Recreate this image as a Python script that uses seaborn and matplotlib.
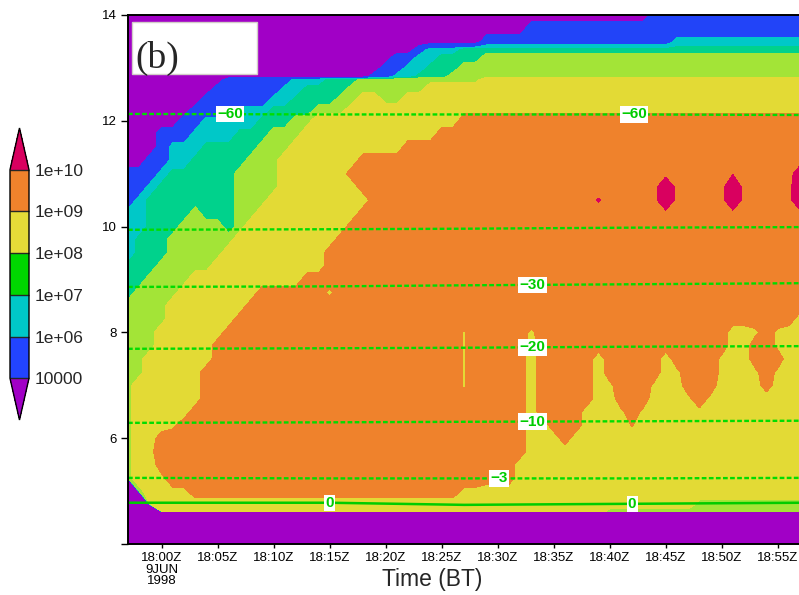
import numpy as np
import pandas as pd
import seaborn as sns
import matplotlib
matplotlib.use("Agg")
import matplotlib.pyplot as plt
from matplotlib import font_manager
from matplotlib.colors import ListedColormap, BoundaryNorm
from matplotlib.cm import ScalarMappable
from matplotlib.patches import Rectangle

# grid columns: minutes after 18:00Z, one per minute
minutes = list(range(-3, 58))
# grid rows: height (km), top to bottom
heights = [14.0, 13.75, 13.5, 13.35, 13.2, 13.0, 12.84, 12.78, 12.6, 12.4, 12.2, 12.0,
           11.75, 11.5, 11.25, 11.0, 10.75, 10.5, 10.25, 10.0, 9.75, 9.5, 9.25, 9.0,
           8.75, 8.5, 8.25, 8.0, 7.75, 7.5, 7.25, 7.0, 6.75, 6.5, 6.25, 6.0, 5.75,
           5.5, 5.25, 5.0, 4.75, 4.62, 4.58, 4.25, 4.0]

# log10 concentration read for each band letter (P = nothing below cloud base)
band_log10 = {"P": -30.0, "p": 3.0, "b": 5.0, "c": 6.5, "t": 7.25, "g": 7.75,
              "y": 8.5, "q": 8.8, "s": 8.93, "r": 9.07, "o": 9.5, "O": 9.9,
              "n": 10.1, "m": 10.8, "M": 11.5}

# run-length rows (count + band letter), same order as heights
band_rows = [
    "47p 14b",
    "36p 25b",
    "32p 17b 12c",
    "26p 1b 3c 31t",
    "24p 2b 2c 4t 29g",
    "23p 2b 2c 3t 31g",
    "22p 2b 2c 3t 32g",
    "9p 6b 3c 3t 11g 29y",
    "8p 6b 2c 4t 7g 34y",
    "7p 6b 2c 4t 2g 2y 2g 36y",
    "6p 3b 4c 4t 3g 10y 31q",
    "5p 2b 5c 3t 2g 13y 31o",
    "3p 3b 4c 3t 3g 12y 33o",
    "3p 1b 3c 5t 3g 10y 36o",
    "2p 2b 2c 5t 3g 7y 40o",
    "3b 1c 6t 4g 6y 34o 1O 5o 1m",
    "2b 1c 7t 4g 7y 27o 1M 5o 1M 5o 1M",
    "1b 1c 8t 3g 9y 20o 1n 5o 1M 5o 1M 5o 1M",
    "2c 4t 1g 3t 2g 9y 40o",
    "2c 3t 4g 1t 1g 9y 41o",
    "1c 3t 6g 9y 42o",
    "1c 3t 5g 9y 43o",
    "3t 5g 10y 43o",
    "2t 4g 10y 45o",
    "1t 4g 7y 6o 1q 42o",
    "4g 7y 50o",
    "4g 6y 50o 1y",
    "3g 6y 21o 1s 5o 1q 17o 2y 1q 1o 1q 2y",
    "3g 5y 22o 1s 5o 1y 17o 2y 2o 1q 2y",
    "2g 6y 22o 1s 5o 1y 5o 1y 5o 1y 4o 1q 2y 3o 2y",
    "2g 5y 23o 1s 5o 1y 5o 1y 5o 1y 1q 3o 1q 2y 1q 1o 1q 2y",
    "1g 6y 23o 1s 5o 1y 5o 1y 1q 3o 1q 2y 3o 4y 1o 3y",
    "1g 6y 23o 1r 5o 1y 5o 2y 3o 3y 1q 1o 1q 8y",
    "1g 5y 30o 1y 4o 3y 1q 1o 1q 4y 1q 9y",
    "1g 3y 1q 31o 2y 3o 4y 1r 15y",
    "1g 2y 33o 3y 1o 21y",
    "1g 1y 1q 33o 25y",
    "1g 2y 32o 26y",
    "1g 2y 1q 31o 26y",
    "1P 1g 2y 2q 24o 2q 29y",
    "2P 49y 10g",
    "3P 40y 18g",
    "61P",
    "61P",
    "61P",
]

fill_levels = [-100, 4, 6, 7, 7.5, 8, 9, 10, 20]
fill_colors = ["#A100C6", "#2244F8", "#00C8C8", "#00D28C", "#A3E437",
               "#E3DA35", "#EF822C", "#D9005F"]

# colorbar
bar_levels = [4, 6, 7, 8, 9, 10]
bar_labels = ["10000", "1e+06", "1e+07", "1e+08", "1e+09", "1e+10"]
bar_colors = ["#A100C6", "#2244FF", "#00C8C8", "#00D700", "#E5DB38", "#EF822C", "#D9005F"]

# isotherms (deg C): heights (km) at these minutes
iso_minutes = [-3, 15, 27, 42, 57]
iso_heights = {
    -60: [12.13, 12.12, 12.12, 12.12, 12.11],
    -40: [9.94, 9.95, 9.96, 9.98, 9.99],
    -30: [8.86, 8.87, 8.89, 8.91, 8.93],
    -20: [7.69, 7.70, 7.71, 7.73, 7.74],
    -10: [6.29, 6.30, 6.31, 6.32, 6.33],
    -3: [5.25, 5.24, 5.24, 5.24, 5.25],
    0: [4.78, 4.78, 4.74, 4.76, 4.78],
}
iso_label_spots = [(-60, 6.1), (-60, 42.2), (-30, 33.1), (-20, 33.1),
                   (-10, 33.1), (-3, 30.1), (0, 15.0), (0, 42.0)]

tick_minutes = [0, 5, 10, 15, 20, 25, 30, 35, 40, 45, 50, 55]
tick_labels = ["18:00Z\n9JUN\n1998", "18:05Z", "18:10Z", "18:15Z", "18:20Z", "18:25Z",
               "18:30Z", "18:35Z", "18:40Z", "18:45Z", "18:50Z", "18:55Z"]


def expand(row):
    out = ""
    for tok in row.split():
        out += tok[-1] * int(tok[:-1])
    return out


grid = np.array([[band_log10[ch] for ch in expand(r)] for r in band_rows])
order = np.argsort(heights)
h_sorted = np.array(heights)[order]
z_sorted = grid[order]

names = {f.name for f in font_manager.fontManager.ttflist}
sans = "Liberation Sans" if "Liberation Sans" in names else "DejaVu Sans"
serif = "Liberation Serif" if "Liberation Serif" in names else "DejaVu Serif"

sns.set_style("ticks")
plt.rcParams["font.family"] = [sans, "DejaVu Sans"]

fig = plt.figure(figsize=(7.99, 5.95), dpi=100)
ax = fig.add_axes([128 / 799, 51 / 595, 671 / 799, 529 / 595])
cax = fig.add_axes([10 / 799, 175 / 595, 19 / 799, 292 / 595])

ax.contourf(minutes, h_sorted, z_sorted, levels=fill_levels, colors=fill_colors)

# temperature lines
iso_df = pd.DataFrame([(temp, m, h) for temp, hs in iso_heights.items()
                       for m, h in zip(iso_minutes, hs)],
                      columns=["temp", "minute", "height"])
for temp, grp in iso_df.groupby("temp"):
    if temp == 0:
        sns.lineplot(data=grp, x="minute", y="height", ax=ax, color="#00CC00",
                     linewidth=1.8, estimator=None, legend=False)
    else:
        sns.lineplot(data=grp, x="minute", y="height", ax=ax, color="#00DD00",
                     linewidth=1.7, linestyle=(0, (2.0, 1.0)), estimator=None, legend=False)

for temp, m0 in iso_label_spots:
    h0 = np.interp(m0, iso_minutes, iso_heights[temp])
    ax.text(m0, h0, str(temp).replace("-", "\u2212"), color="#00CC00", fontsize=11,
            fontweight="bold", ha="center", va="center", zorder=5,
            bbox=dict(boxstyle="square,pad=0.08", fc="white", ec="none"))

ax.set_xlim(-3, 56.9)
ax.set_ylim(4, 14)
ax.set_xticks(tick_minutes)
ax.set_xticklabels(tick_labels)
for lbl in ax.get_xticklabels():
    lbl.set_linespacing(0.95)
ax.set_yticks([4, 6, 8, 10, 12, 14])
ax.set_yticklabels(["", "6", "8", "10", "12", "14"])
ax.tick_params(axis="x", length=3, width=1, pad=3, labelsize=9.5, colors="black")
ax.tick_params(axis="y", length=5, width=1, pad=3, labelsize=9.5, colors="black")
for side in ["left", "top", "bottom"]:
    ax.spines[side].set_color("black")
    ax.spines[side].set_linewidth(1.4)
ax.spines["right"].set_visible(False)
ax.set_ylabel("")
ax.set_xlabel("Time (BT)", fontsize=16.5)
ax.xaxis.set_label_coords(0.453, -0.045)

# panel tag
ax.add_patch(Rectangle((0.006, 0.8885), 0.186, 0.0983, transform=ax.transAxes,
                       fc="white", ec="#d2cdc8", lw=1, zorder=6))
ax.text(0.011, 0.917, "(b)", transform=ax.transAxes, fontsize=27,
        family=[serif, "DejaVu Serif"], ha="left", va="center", zorder=7)

cmap = ListedColormap(bar_colors[1:-1])
cmap.set_under(bar_colors[0])
cmap.set_over(bar_colors[-1])
norm = BoundaryNorm(bar_levels, cmap.N)
cb = fig.colorbar(ScalarMappable(norm=norm, cmap=cmap), cax=cax, extend="both",
                  extendfrac="auto", drawedges=True, ticks=bar_levels)
cb.set_ticklabels(bar_labels)
cb.ax.tick_params(length=0, pad=4, labelsize=12.5)
cb.outline.set_linewidth(1)
cb.outline.set_edgecolor("black")
cb.dividers.set_linewidth(1)

fig.savefig("out.png", dpi=100)
